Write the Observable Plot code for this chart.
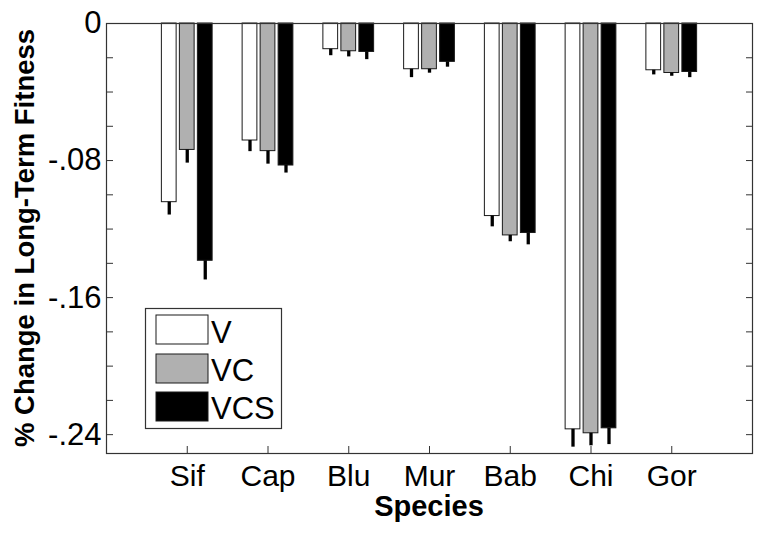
<!DOCTYPE html>
<html>
<head>
<meta charset="utf-8">
<script src="https://cdn.jsdelivr.net/npm/d3@7"></script>
<script src="https://cdn.jsdelivr.net/npm/@observablehq/plot@0.6"></script>
<style>
  html, body { margin: 0; padding: 0; background: #fff; }
  #chart { width: 764px; height: 533px; }
</style>
</head>
<body>
<div id="chart"></div>
<script>
// ---- data ----
const species = ["Sif", "Cap", "Blu", "Mur", "Bab", "Chi", "Gor"];
const groups = ["V", "VC", "VCS"];
const valuesV   = [-0.1043, -0.0683, -0.0150, -0.0267, -0.1124, -0.2369, -0.0273];
const valuesVC  = [-0.0738, -0.0745, -0.0162, -0.0267, -0.1237, -0.2392, -0.0289];
const valuesVCS = [-0.1385, -0.0829, -0.0166, -0.0224, -0.1223, -0.2363, -0.0283];
const errV   = [0.0075, 0.0065, 0.0038, 0.0049, 0.0063, 0.0104, 0.0027];
const errVC  = [0.0077, 0.0076, 0.0033, 0.0023, 0.0037, 0.0073, 0.0019];
const errVCS = [0.0112, 0.0044, 0.0045, 0.0031, 0.0069, 0.0095, 0.0033];
const yMinorTicks = [0, -0.02, -0.04, -0.06, -0.08, -0.10, -0.12, -0.14, -0.16, -0.18, -0.20, -0.22, -0.24];
const yLabelTicks = [0, -0.08, -0.16, -0.24];
const yTickLabels = ["0", "-.08", "-.16", "-.24"];
const yTitle = "% Change in Long-Term Fitness";
const xTitle = "Species";

// ---- table built from the arrays ----
const seriesValues = {V: valuesV, VC: valuesVC, VCS: valuesVCS};
const seriesErr = {V: errV, VC: errVC, VCS: errVCS};
const rows = groups.flatMap(g => species.map((s, i) => ({species: s, group: g, value: seriesValues[g][i], err: seriesErr[g][i]})));
const labelOf = new Map(yLabelTicks.map((t, i) => [t, yTickLabels[i]]));

// ---- styles ----
const fillOf = {V: "#ffffff", VC: "#b0b0b0", VCS: "#000000"};
const shift = {V: -18, VC: 0, VCS: 18};
const font = "'Liberation Sans', Arial, Helvetica, sans-serif";
const axisColor = "#333";

const plot = Plot.plot({
  width: 764,
  height: 533,
  marginLeft: 106,
  marginRight: 12,
  marginTop: 23,
  marginBottom: 80,
  style: {fontFamily: font, background: "#fff", color: "#000"},
  x: {type: "band", domain: species, paddingInner: 0, paddingOuter: 0.5, round: false, axis: null},
  y: {domain: [-0.251, 0], axis: null},
  marks: [
    ...groups.map(g => Plot.barY(rows.filter(d => d.group === g), {
      x: "species", y: "value", fill: fillOf[g], stroke: "#1a1a1a", strokeWidth: 1,
      insetLeft: 33, insetRight: 33, dx: shift[g]
    })),
    ...groups.map(g => Plot.ruleX(rows.filter(d => d.group === g), {
      x: "species", y1: "value", y2: d => d.value - d.err,
      stroke: "#000", strokeWidth: 3.3, dx: shift[g]
    })),
    Plot.frame({stroke: axisColor, strokeWidth: 1.2}),
    Plot.axisY(yMinorTicks, {anchor: "left", tickSize: 7, insetLeft: 7, fill: "none", stroke: axisColor, label: null}),
    Plot.axisY(yMinorTicks, {anchor: "right", tickSize: 7, insetRight: 7, fill: "none", stroke: axisColor, label: null}),
    Plot.axisY(yLabelTicks, {anchor: "left", tickSize: 0, tickPadding: 5, tickFormat: d => labelOf.get(d), fontSize: 31, label: null}),
    Plot.axisX({anchor: "bottom", tickSize: 7, insetBottom: 7, fill: "none", stroke: axisColor, label: null}),
    Plot.axisX({anchor: "bottom", tickSize: 0, tickPadding: 11, fontSize: 30, label: null})
  ]
});

document.getElementById("chart").appendChild(plot);

// ---- titles and legend ----
const svg = d3.select(plot);
svg.append("text")
  .attr("transform", "translate(34,238) rotate(-90)")
  .attr("text-anchor", "middle")
  .style("font-family", font).style("font-weight", "bold").style("font-size", "27.5px")
  .attr("fill", "#000")
  .text(yTitle);
svg.append("text")
  .attr("x", 429).attr("y", 516)
  .attr("text-anchor", "middle")
  .style("font-family", font).style("font-weight", "bold").style("font-size", "29px")
  .attr("fill", "#000")
  .text(xTitle);

const lg = svg.append("g");
lg.append("rect").attr("x", 145.5).attr("y", 308.5).attr("width", 136).attr("height", 120)
  .attr("fill", "#fff").attr("stroke", axisColor).attr("stroke-width", 1.2);
const swY = [315, 354, 392];
const txtY = [342.7, 381, 419.3];
groups.forEach((g, i) => {
  lg.append("rect").attr("x", 156).attr("y", swY[i]).attr("width", 52).attr("height", 29)
    .attr("fill", fillOf[g]).attr("stroke", "#1a1a1a").attr("stroke-width", 1);
  lg.append("text").attr("x", 211).attr("y", txtY[i])
    .attr("text-anchor", "start")
    .style("font-family", font).style("font-size", "31px").attr("fill", "#000")
    .text(g);
});
</script>
</body>
</html>
